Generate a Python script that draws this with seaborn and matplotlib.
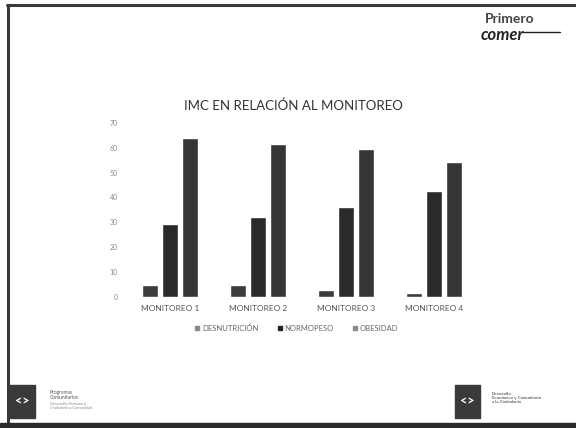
import pandas as pd
import matplotlib
matplotlib.use('Agg')
import matplotlib.pyplot as plt
import matplotlib.patches as mpatches
import seaborn as sns

# Data
monitoreos = ['MONITOREO 1', 'MONITOREO 2', 'MONITOREO 3', 'MONITOREO 4']
desnutricion = [4.8, 4.8, 2.7, 1.7]
normopeso = [29.3, 32.0, 36.3, 42.7]
obesidad = [64.0, 61.3, 59.3, 54.3]
yticks = [0, 10, 20, 30, 40, 50, 60, 70]

df = pd.DataFrame({
    'monitoreo': monitoreos * 3,
    'estado': ['DESNUTRICIÓN'] * 4 + ['NORMOPESO'] * 4 + ['OBESIDAD'] * 4,
    'valor': desnutricion + normopeso + obesidad,
})

sns.set_style('white')
plt.rcParams['font.family'] = ['Lato', 'DejaVu Sans']

fig = plt.figure(figsize=(5.76, 4.28), dpi=100)
fig.patch.set_facecolor('white')

# Slide frame
fig.add_artist(plt.Line2D([7 / 576, 1], [1 - 4.5 / 428] * 2, color='#3a3a3a', lw=2.2))
fig.add_artist(plt.Line2D([7.5 / 576] * 2, [0, 1 - 4.5 / 428], color='#3a3a3a', lw=2.2))
fig.add_artist(mpatches.Rectangle((0, 0), 1, 5 / 428, transform=fig.transFigure,
                                  color='#2b2b2b', zorder=5))

# Chart
ax = fig.add_axes([126 / 576, 1 - 297 / 428, 352 / 576, 174.3 / 428])
palette = ['#3b3b3b', '#2a2a2a', '#353535']
sns.barplot(data=df, x='monitoreo', y='valor', hue='estado', palette=palette,
            width=0.68, gap=0.18, ax=ax, legend=False)
ax.set_ylim(0, 70)
ax.set_yticks(yticks)
ax.tick_params(axis='y', labelsize=5, colors='#888888', length=0, pad=6)
ax.tick_params(axis='x', labelsize=6, colors='#555555', length=0, pad=6)
ax.set_xlabel('')
ax.set_ylabel('')
for s in ax.spines.values():
    s.set_visible(False)

fig.text(293 / 576, 1 - 106 / 428, 'IMC EN RELACIÓN AL MONITOREO', ha='center',
         va='center', fontsize=9.5, color='#333333')

handles = [mpatches.Patch(color=c) for c in ['#8a8a8a', '#222222', '#8a8a8a']]
fig.legend(handles, ['DESNUTRICIÓN', 'NORMOPESO', 'OBESIDAD'], loc='center',
           bbox_to_anchor=(297 / 576, 1 - 328 / 428), ncol=3, frameon=False,
           fontsize=5.5, handlelength=0.5, handleheight=0.5, columnspacing=2.5,
           handletextpad=0.4, labelcolor='#666666')

# Header logo
fig.text(510 / 576, 1 - 19 / 428, 'Primero', ha='center', va='center',
         fontsize=10, color='#444444', fontweight='bold')
fig.text(502 / 576, 1 - 35 / 428, 'comer', ha='center', va='center',
         fontsize=12, color='#222222', fontweight='bold', style='italic')
fig.add_artist(plt.Line2D([522 / 576, 560 / 576], [1 - 32 / 428] * 2, color='#222222', lw=1))

# Footer logos
for x0 in [10, 455]:
    fig.add_artist(mpatches.Rectangle((x0 / 576, 1 - 418 / 428), 25 / 576, 33 / 428,
                                      transform=fig.transFigure, color='#3a3a3a'))
    fig.text((x0 + 12.5) / 576, 1 - 401 / 428, '<>', ha='center', va='center',
             fontsize=9, color='white', fontweight='bold')
fig.text(50 / 576, 1 - 395 / 428, 'Programas\nComunitarios', fontsize=3.5,
         color='#555555', va='center', linespacing=1.1)
fig.text(50 / 576, 1 - 406 / 428, 'Desarrollo Humano y\nCiudadanía y Comunidad', fontsize=2.8,
         color='#888888', va='center', linespacing=1.1)
fig.text(492 / 576, 1 - 398 / 428, 'Desarrollo\nEconómico y Comunitario\na la Ciudadanía', fontsize=3.2,
         color='#333333', va='center', linespacing=1.1)

fig.savefig('out.png', dpi=100)
